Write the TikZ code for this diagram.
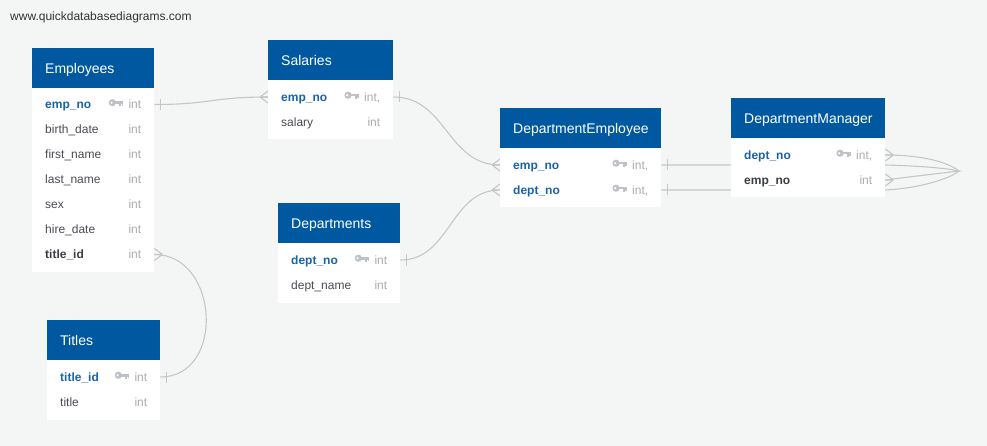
\documentclass[tikz,border=0pt]{standalone}
\usepackage{fontspec}
\setmainfont{Liberation Sans}
\definecolor{bgc}{RGB}{244,246,246}
\definecolor{hdrc}{RGB}{0,89,160}
\definecolor{pkc}{RGB}{28,98,166}
\definecolor{fkc}{RGB}{58,62,68}
\definecolor{fldc}{RGB}{72,76,82}
\definecolor{typc}{RGB}{170,172,176}
\definecolor{keyc}{RGB}{190,194,198}
\definecolor{lnkc}{RGB}{198,198,198}
\definecolor{urlc}{RGB}{50,50,50}
\newcommand{\erField}[4]{%
  \node[#2] at ([xshift=13pt,yshift=-4.3pt]#1.west) {#3};
  \node[typ] (#1-t) at ([xshift=-13pt,yshift=-4.3pt]#1.east) {#4};}
\newcommand{\erKey}[1]{\pic at (#1-t.west |- #1) {keyicon};}
\begin{document}
\begin{tikzpicture}[x=1pt,y=-1pt,
  hdrbox/.style={fill=hdrc, draw=none, anchor=north west, minimum height=40pt, inner sep=0pt},
  bodybox/.style={fill=white, draw=none, anchor=north west, inner sep=0pt},
  rowbox/.style={draw=none, inner sep=0pt, minimum height=25pt, anchor=west},
  ttl/.style={text=white, font=\fontsize{14}{16}\selectfont, anchor=base west, inner sep=0pt},
  pkname/.style={text=pkc, font=\bfseries\fontsize{12}{14}\selectfont, anchor=base west, inner sep=0pt},
  fkname/.style={text=fkc, font=\bfseries\fontsize{12}{14}\selectfont, anchor=base west, inner sep=0pt},
  plain/.style={text=fldc, font=\fontsize{12}{14}\selectfont, anchor=base west, inner sep=0pt},
  typ/.style={text=typc, font=\fontsize{12}{14}\selectfont, anchor=base east, inner sep=0pt},
  link/.style={draw=lnkc, line width=1.1pt},
  keyicon/.pic={
    \fill[keyc] (-16,-1.8) circle (3.6);
    \fill[white] (-16.8,-1.8) circle (1.2);
    \fill[keyc] (-13,-3.2) rectangle (-5,-0.5);
    \fill[keyc] (-9.2,-0.6) rectangle (-7.4,1.8);
    \fill[keyc] (-6.8,-0.6) rectangle (-5,1.4);
  },
  barR/.pic={\draw[link] (6,-5.5) -- (6,5.5);},
  crowR/.pic={\draw[link] (8,0) -- (0,-6) (8,0) -- (0,6) (8,0) -- (0,0);},
  crowL/.pic={\draw[link] (-8,0) -- (0,-6) (-8,0) -- (0,6) (-8,0) -- (0,0);}
]
\fill[bgc] (0,0) rectangle (987,446);
\useasboundingbox (0,0) rectangle (987,446);

\node[text=urlc, font=\fontsize{12}{14}\selectfont, anchor=base west, inner sep=0pt] (url) at (10,20.3) {www.quickdatabasediagrams.com};

% ---------- row anchors (invisible) ----------
\node[rowbox, minimum width=122pt] (emp-1) at (32,104.5) {};
\node[rowbox, minimum width=122pt] (emp-2) at (32,129.5) {};
\node[rowbox, minimum width=122pt] (emp-3) at (32,154.5) {};
\node[rowbox, minimum width=122pt] (emp-4) at (32,179.5) {};
\node[rowbox, minimum width=122pt] (emp-5) at (32,204.5) {};
\node[rowbox, minimum width=122pt] (emp-6) at (32,229.5) {};
\node[rowbox, minimum width=122pt] (emp-7) at (32,254.5) {};
\node[rowbox, minimum width=125pt] (sal-1) at (268,97) {};
\node[rowbox, minimum width=125pt] (sal-2) at (268,122) {};
\node[rowbox, minimum width=122pt] (dep-1) at (278,260) {};
\node[rowbox, minimum width=122pt] (dep-2) at (278,285) {};
\node[rowbox, minimum width=113pt] (tit-1) at (47,377) {};
\node[rowbox, minimum width=113pt] (tit-2) at (47,402) {};
\node[rowbox, minimum width=161pt] (de-1) at (500,165) {};
\node[rowbox, minimum width=161pt] (de-2) at (500,190) {};
\node[rowbox, minimum width=154pt] (dm-1) at (731,155) {};
\node[rowbox, minimum width=154pt] (dm-2) at (731,180) {};
\coordinate (loop) at (959,171);

% ---------- connectors ----------
\draw[link] (emp-1.east) .. controls +(57,0) and +(-57,0) .. (sal-1.west);
\pic at (emp-1.east) {barR};
\pic at (sal-1.west) {crowL};

\draw[link] (sal-1.east) .. controls +(53,0) and +(-53,0) .. (de-1.west);
\pic at (sal-1.east) {barR};
\pic at (de-1.west) {crowL};

\draw[link] (dep-1.east) .. controls +(50,0) and +(-50,0) .. (de-2.west);
\pic at (dep-1.east) {barR};
\pic at (de-2.west) {crowL};

\draw[link] (emp-7.east) .. controls +(65,0) and +(65,0) .. (tit-1.east);
\pic at (emp-7.east) {crowR};
\pic at (tit-1.east) {barR};

\draw[link] (de-1.east) -- (de-1 -| dm-1.east) .. controls +(35,1) and +(-14,-3) .. (loop)
  .. controls +(-24,3) and +(22,-3) .. (dm-2.east);
\draw[link] (de-2.east) -- (de-2 -| dm-2.east) .. controls +(35,-2) and +(-10,8) .. (loop)
  .. controls +(-14,-11) and +(30,0) .. (dm-1.east);
\pic at (de-1.east) {barR};
\pic at (de-2.east) {barR};
\pic at (dm-1.east) {crowR};
\pic at (dm-2.east) {crowR};

% ---------- Employees ----------
\node[bodybox, minimum width=122pt, minimum height=184pt] (emp-b) at (32,88) {};
\node[hdrbox, minimum width=122pt] (emp-h) at (32,48) {};
\node[ttl] at ([xshift=13pt,yshift=-25.3pt]emp-h.north west) {Employees};
\erField{emp-1}{pkname}{emp\_no}{int}\erKey{emp-1}
\erField{emp-2}{plain}{birth\_date}{int}
\erField{emp-3}{plain}{first\_name}{int}
\erField{emp-4}{plain}{last\_name}{int}
\erField{emp-5}{plain}{sex}{int}
\erField{emp-6}{plain}{hire\_date}{int}
\erField{emp-7}{fkname}{title\_id}{int}

% ---------- Salaries ----------
\node[bodybox, minimum width=125pt, minimum height=59pt] (sal-b) at (268,80) {};
\node[hdrbox, minimum width=125pt] (sal-h) at (268,40) {};
\node[ttl] at ([xshift=13pt,yshift=-25.3pt]sal-h.north west) {Salaries};
\erField{sal-1}{pkname}{emp\_no}{int,}\erKey{sal-1}
\erField{sal-2}{plain}{salary}{int}

% ---------- Departments ----------
\node[bodybox, minimum width=122pt, minimum height=60pt] (dep-b) at (278,243) {};
\node[hdrbox, minimum width=122pt] (dep-h) at (278,203) {};
\node[ttl] at ([xshift=13pt,yshift=-25.3pt]dep-h.north west) {Departments};
\erField{dep-1}{pkname}{dept\_no}{int}\erKey{dep-1}
\erField{dep-2}{plain}{dept\_name}{int}

% ---------- Titles ----------
\node[bodybox, minimum width=113pt, minimum height=60pt] (tit-b) at (47,360) {};
\node[hdrbox, minimum width=113pt] (tit-h) at (47,320) {};
\node[ttl] at ([xshift=13pt,yshift=-25.3pt]tit-h.north west) {Titles};
\erField{tit-1}{pkname}{title\_id}{int}\erKey{tit-1}
\erField{tit-2}{plain}{title}{int}

% ---------- DepartmentEmployee ----------
\node[bodybox, minimum width=161pt, minimum height=59pt] (de-b) at (500,148) {};
\node[hdrbox, minimum width=161pt] (de-h) at (500,108) {};
\node[ttl] at ([xshift=13pt,yshift=-25.3pt]de-h.north west) {DepartmentEmployee};
\erField{de-1}{pkname}{emp\_no}{int,}\erKey{de-1}
\erField{de-2}{pkname}{dept\_no}{int,}\erKey{de-2}

% ---------- DepartmentManager ----------
\node[bodybox, minimum width=154pt, minimum height=59pt] (dm-b) at (731,138) {};
\node[hdrbox, minimum width=154pt] (dm-h) at (731,98) {};
\node[ttl] at ([xshift=13pt,yshift=-25.3pt]dm-h.north west) {DepartmentManager};
\erField{dm-1}{pkname}{dept\_no}{int,}\erKey{dm-1}
\erField{dm-2}{fkname}{emp\_no}{int}
\end{tikzpicture}
\end{document}
